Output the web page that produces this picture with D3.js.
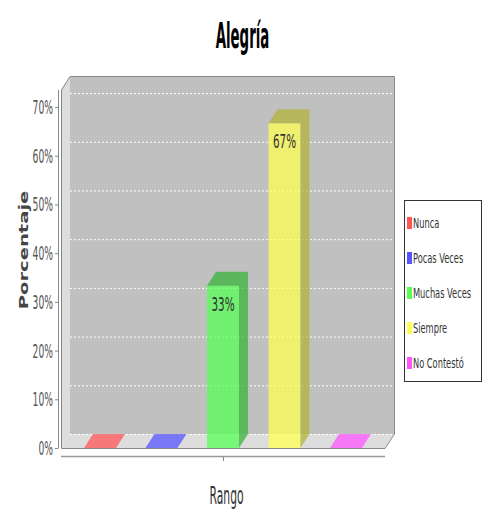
<!DOCTYPE html>
<html>
<head>
<meta charset="utf-8">
<script src="https://cdn.jsdelivr.net/npm/d3@7"></script>
<style>
  html, body { margin: 0; padding: 0; background: #ffffff; }
  svg { display: block; }
  text { font-family: "DejaVu Sans", sans-serif; }
</style>
</head>
<body>
<svg id="chart" width="483" height="511"></svg>
<script>
// ---- data ----
const title = "Alegría";
const categories = ["Nunca", "Pocas Veces", "Muchas Veces", "Siempre", "No Contestó"];
const values = [0, 0, 33.33, 66.67, 0];
const valueLabels = ["", "", "33%", "67%", ""];
const seriesColors = ["#ff5555", "#5555ff", "#55ff55", "#ffff55", "#ff55ff"];
const yTicks = [0, 10, 20, 30, 40, 50, 60, 70];
const yTickLabels = ["0%", "10%", "20%", "30%", "40%", "50%", "60%", "70%"];
const yLabel = "Porcentaje";
const xLabel = "Rango";

// ---- layout ----
const svg = d3.select("#chart");
const X0 = 61, X1 = 385, YB = 448, YT = 90;
const DX = 9, DY = 14;

const x = d3.scaleBand().domain(categories).range([X0, X1]).paddingInner(0.48).paddingOuter(0.374);
const y = d3.scaleLinear().domain([0, 73.5]).range([YB, YT]);

function stext(parent, px, py, str, o) {
  return parent.append("text")
    .attr("transform", `translate(${px},${py}) scale(${o.sx || 1},${o.sy || 1})`)
    .attr("text-anchor", o.anchor || "start")
    .attr("font-size", o.size)
    .attr("font-weight", o.weight || "normal")
    .attr("fill", o.fill || "#000")
    .text(str);
}

// back wall
svg.append("rect").attr("x", X0 + DX).attr("y", YT - DY).attr("width", X1 - X0).attr("height", YB - YT)
  .attr("fill", "#c0c0c0");
// left wall
svg.append("path").attr("d", `M${X0},${YT}L${X0 + DX},${YT - DY}L${X0 + DX},${YB - DY}L${X0},${YB}Z`).attr("fill", "#dddddd");
// floor
svg.append("path").attr("d", `M${X0},${YB}L${X0 + DX},${YB - DY}L${X1 + DX},${YB - DY}L${X1},${YB}Z`).attr("fill", "#dddddd");

// gridlines on back wall
svg.append("g").selectAll("line").data(yTicks).join("line")
  .attr("x1", X0 + DX).attr("x2", X1 + DX)
  .attr("y1", d => y(d) - DY + 0.5).attr("y2", d => y(d) - DY + 0.5)
  .attr("stroke", "#ffffff").attr("stroke-width", 1).attr("stroke-dasharray", "2,2");

// bars
const bars = svg.append("g");
categories.forEach((c, i) => {
  const v = values[i];
  const bx = x(c), bw = x.bandwidth(), ty = y(v);
  const col = d3.color(seriesColors[i]);
  const dark = d3.rgb(col.r * 0.7, col.g * 0.7, col.b * 0.7);
  const g = bars.append("g").attr("fill-opacity", 0.75);
  if (v > 0) {
    g.append("rect").attr("x", bx).attr("y", ty).attr("width", bw).attr("height", YB - ty).attr("fill", col);
    g.append("path").attr("d", `M${bx},${ty}L${bx + DX},${ty - DY}L${bx + bw + DX},${ty - DY}L${bx + bw},${ty}Z`).attr("fill", dark);
    g.append("path").attr("d", `M${bx + bw},${ty}L${bx + bw + DX},${ty - DY}L${bx + bw + DX},${YB - DY}L${bx + bw},${YB}Z`).attr("fill", dark);
  } else {
    g.append("path").attr("d", `M${bx},${YB}L${bx + DX},${YB - DY}L${bx + bw + DX},${YB - DY}L${bx + bw},${YB}Z`).attr("fill", col);
  }
  if (valueLabels[i]) {
    stext(bars, bx + bw / 2, ty + 25, valueLabels[i], { size: 20, sx: 0.52, anchor: "middle", fill: "#333" });
  }
});

// plot outline
svg.append("path")
  .attr("d", `M${X0 + 0.5},${YB + 0.5}L${X0 + 0.5},${YT}L${X0 + DX},${YT - DY + 0.5}L${X1 + DX + 0.5},${YT - DY + 0.5}L${X1 + DX + 0.5},${YB - DY}L${X1},${YB + 0.5}Z`)
  .attr("fill", "none").attr("stroke", "#888").attr("stroke-width", 1);

// y axis
const ya = svg.append("g");
ya.append("line").attr("x1", 58.5).attr("x2", 58.5).attr("y1", YT).attr("y2", YB).attr("stroke", "#888");
yTicks.forEach((t, i) => {
  ya.append("line").attr("x1", 55).attr("x2", 58.5).attr("y1", y(t) + 0.5).attr("y2", y(t) + 0.5).attr("stroke", "#888");
  stext(ya, 53, y(t) + 7, yTickLabels[i], { size: 20, sx: 0.46, anchor: "end", fill: "#555" });
});
// y label
svg.append("text")
  .attr("transform", `translate(28,250) rotate(-90) scale(1.03,0.62)`)
  .attr("text-anchor", "middle").attr("font-size", 19).attr("font-weight", "bold").attr("fill", "#444")
  .text(yLabel);

// x axis
svg.append("line").attr("x1", X0).attr("x2", X1).attr("y1", 456.5).attr("y2", 456.5).attr("stroke", "#999").attr("stroke-width", 1.5);
svg.append("line").attr("x1", (X0 + X1) / 2 + 0.5).attr("x2", (X0 + X1) / 2 + 0.5).attr("y1", 457).attr("y2", 461).attr("stroke", "#888");
stext(svg, 226.5, 504, xLabel, { size: 24, sx: 0.45, anchor: "middle", fill: "#333" });

// title
stext(svg, 242.5, 48, title, { size: 36, sx: 0.37, anchor: "middle", weight: "bold", fill: "#000" });

// legend
const lg = svg.append("g");
lg.append("rect").attr("x", 404.5).attr("y", 200.5).attr("width", 77).attr("height", 181)
  .attr("fill", "#fff").attr("stroke", "#333");
categories.forEach((c, i) => {
  const cy = 223 + i * 35;
  lg.append("rect").attr("x", 407).attr("y", cy - 6).attr("width", 5).attr("height", 12).attr("fill", seriesColors[i]);
  stext(lg, 413, cy + 5, c, { size: 14, sx: 0.59, anchor: "start", fill: "#333" });
});
</script>
</body>
</html>
